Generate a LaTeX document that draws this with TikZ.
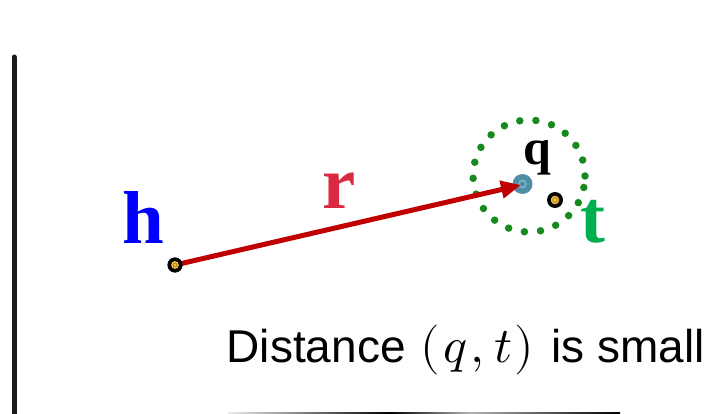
\documentclass[tikz,border=0pt]{standalone}
\usepackage{fontspec}
\usepackage{unicode-math}
\setmathfont{Latin Modern Math}
\newfontfamily\serifbold{Liberation Serif}[BoldFont={Liberation Serif Bold}]
\newfontfamily\arialfont{Liberation Sans}
\usetikzlibrary{arrows.meta}
\definecolor{hblue}{HTML}{0000FF}
\definecolor{rred}{HTML}{D92A42}
\definecolor{tgreen}{HTML}{00B050}
\definecolor{arrowred}{HTML}{C00000}
\definecolor{dotgreen}{HTML}{168A1E}
\definecolor{qteal}{HTML}{4F8FA3}
\definecolor{qtealin}{HTML}{7BB5C8}
\definecolor{gold}{HTML}{F2C246}
\definecolor{golddark}{HTML}{B8861C}
\definecolor{barblack}{HTML}{1A1A1A}
\tikzset{
  biglabel/.style={inner sep=0pt, anchor=base, font=\serifbold\bfseries\fontsize{75}{80}\selectfont},
  ringpoint/.style={circle, fill=black, minimum size=15pt, inner sep=0pt},
}
\begin{document}
\begin{tikzpicture}[x=1pt,y=-1pt]
\useasboundingbox (0,0) rectangle (706,414);
% left bar
\draw[barblack, line width=5pt, line cap=round] (14,57) -- (14,420);
% bottom edge line
\shade[left color=gray!15, right color=black] (228,412.2) rectangle (390,413.8);
\shade[left color=black, right color=gray!60] (390,412.2) rectangle (470,413.8);
\shade[left color=gray!60, right color=black] (470,412.2) rectangle (620,413.8);
% labels
\node[biglabel, text=hblue] (hl) at (143,243) {h};
\node[biglabel, text=rred] (rl) at (339.5,208) {r};
\node[biglabel, text=tgreen] (tl) at (593,242) {t};
\node[inner sep=0pt, anchor=base, font=\serifbold\bfseries\fontsize{50}{55}\selectfont] (ql) at (537.5,165) {q};
% dotted circle
\node[circle, draw=dotgreen, line width=7.5pt, dash pattern=on 0pt off 16.2pt, line cap=round, minimum size=112pt, inner sep=0pt] (ring) at (529,176) {};
% q point
\node[circle, fill=qteal, minimum size=20pt, inner sep=0pt] (qp) at (522.5,184) {};
\draw[qtealin, line width=1.5pt] (qp.center) circle (3.5pt);
% t point
\node[ringpoint, minimum size=16pt] (tp) at (555,200) {};
\fill[gold] (tp.center) circle (4.3pt);
\draw[golddark, line width=1pt] (tp.center) circle (2.3pt);
% arrow
\coordinate (tip) at (521,185);
\node[ringpoint] (hp) at (175,265) {};
\draw[arrowred, line width=5pt, -{Triangle[length=20pt,width=17pt]}] (hp.center) -- (tip);
\node[ringpoint] (hp2) at (175,265) {};
\fill[gold] (hp2.center) circle (3.9pt);
\draw[golddark, line width=1pt] (hp2.center) circle (2pt);
% caption
\node[inner sep=0pt, anchor=base west, font=\arialfont\fontsize{46}{50}\selectfont] (cap) at (226.5,362)
  {Distance\hspace{14.5pt}{\fontsize{50}{50}\selectfont$(\kern4pt q\kern3pt,\kern2pt t\kern2pt)$}\hspace{17pt}is small};
\end{tikzpicture}
\end{document}
